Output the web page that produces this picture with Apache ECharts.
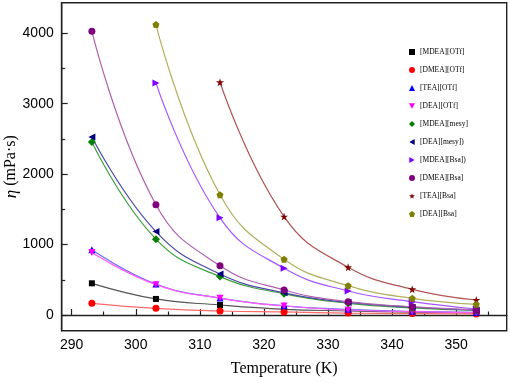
<!DOCTYPE html>
<html>
<head>
<meta charset="utf-8">
<script src="https://cdn.jsdelivr.net/npm/echarts@6/dist/echarts.min.js"></script>
<style>
  html, body { margin: 0; padding: 0; background: #fff; }
  #chart { width: 510px; height: 383px; }
</style>
</head>
<body>
<div id="chart"></div>
<script>
// temperatures (K)
var temps = [293.15, 303.15, 313.15, 323.15, 333.15, 343.15, 353.15];

// viscosity (mPa·s), null = not measured
var MDEA_OTf  = [450, 228, 142, 81, 58, 40, 28];
var DMEA_OTf  = [166, 95, 57, 43, 28, 20, 14];
var TEA_OTf   = [925, 440, 240, 130, 80, 52, 36];
var DEA_OTf   = [886, 431, 237, 128, 71, 48, 33];
var MDEA_mesy = [2456, 1077, 545, 300, 166, 100, 65];
var DEA_mesy  = [2527, 1185, 583, 315, 178, 110, 72];
var MDEA_Bsa  = [null, 3296, 1380, 663, 341, 189, 85];
var DMEA_Bsa  = [4030, 1565, 700, 355, 189, 118, 71];
var TEA_Bsa   = [null, null, 3305, 1398, 678, 365, 213];
var DEA_Bsa   = [null, 4125, 1707, 792, 417, 237, 152];

var xLabels = [290, 300, 310, 320, 330, 340, 350];
var xMinor  = [295, 305, 315, 325, 335, 345, 355];
var yLabels = [0, 1000, 2000, 3000, 4000];
var yMinor  = [500, 1500, 2500, 3500];

var STAR = 'path://M50,0 L61,35 L98,35 L68,57 L79,91 L50,70 L21,91 L32,57 L2,35 L39,35 Z';
var PENT = 'path://M50,0 L100,38 L81,100 L19,100 L0,38 Z';
var TRI_DOWN = 'path://M0,0 L100,0 L50,90 Z';
var TRI_LEFT = 'path://M0,50 L90,0 L90,100 Z';
var TRI_RIGHT = 'path://M0,0 L90,50 L0,100 Z';

var defs = [
  { name: '[MDEA][OTf]',  values: MDEA_OTf,  symbol: 'rect',     color: '#000000', line: '#555555', size: 6 },
  { name: '[DMEA][OTf]',  values: DMEA_OTf,  symbol: 'circle',   color: '#ff0000', line: '#ff6a6a', size: 7 },
  { name: '[TEA][OTf]',   values: TEA_OTf,   symbol: 'triangle', color: '#0000ff', line: '#6a6aff', size: 7 },
  { name: '[DEA][OTf]',   values: DEA_OTf,   symbol: TRI_DOWN,   color: '#ff00ff', line: '#ff5cff', size: 7 },
  { name: '[MDEA][mesy]', values: MDEA_mesy, symbol: 'diamond',  color: '#008000', line: '#3f9f3f', size: 8 },
  { name: '[DEA][mesy])', values: DEA_mesy,  symbol: TRI_LEFT,   color: '#000080', line: '#4a4aa6', size: 7 },
  { name: '[MDEA][Bsa])', values: MDEA_Bsa,  symbol: TRI_RIGHT,  color: '#8000ff', line: '#a455ff', size: 7 },
  { name: '[DMEA][Bsa]',  values: DMEA_Bsa,  symbol: 'circle',   color: '#800080', line: '#b061b0', size: 7 },
  { name: '[TEA][Bsa]',   values: TEA_Bsa,   symbol: STAR,       color: '#800000', line: '#b05555', size: 8 },
  { name: '[DEA][Bsa]',   values: DEA_Bsa,   symbol: PENT,       color: '#808000', line: '#b0b060', size: 7 }
];

var series = defs.map(function (d) {
  var pts = [];
  d.values.forEach(function (v, i) {
    if (v !== null) pts.push([temps[i], v]);
  });
  return {
    name: d.name,
    type: 'line',
    data: pts,
    smooth: 0.45,
    symbol: d.symbol,
    symbolSize: d.size,
    showAllSymbol: true,
    itemStyle: { color: d.color },
    lineStyle: { color: d.line, width: 1.2 },
    z: 3
  };
});

var chart = echarts.init(document.getElementById('chart'), null, { renderer: 'canvas' });

var tickFont = { fontFamily: 'Liberation Sans', fontSize: 14, color: '#000' };
var plain = function (v) { return String(v); };

chart.setOption({
  animation: false,
  backgroundColor: '#fff',
  grid: {
    left: 61.7, right: 3.3, top: 2.7, bottom: 52.3,
    containLabel: false,
    outerBoundsMode: 'none',
    show: true, borderColor: '#222', borderWidth: 1.4
  },
  legend: {
    orient: 'vertical',
    left: 409,
    top: 48,
    itemWidth: 6,
    itemHeight: 6,
    itemGap: 10,
    padding: 0,
    textStyle: { fontFamily: 'Liberation Serif', fontSize: 7.5, color: '#000' },
    data: defs.map(function (d) { return { name: d.name, icon: d.symbol }; })
  },
  xAxis: [{
    type: 'value',
    min: 288.44,
    max: 357.9,
    name: 'Temperature (K)',
    nameLocation: 'middle',
    nameGap: 30,
    nameMoveOverlap: false,
    nameTextStyle: { fontFamily: 'Liberation Serif', fontSize: 16, color: '#000' },
    axisLine: { show: true, lineStyle: { color: '#222', width: 1.4 } },
    axisTick: { show: true, inside: true, length: 6, customValues: xLabels, lineStyle: { color: '#222', width: 1.2 } },
    axisLabel: Object.assign({ customValues: xLabels, margin: 7, formatter: plain }, tickFont),
    splitLine: { show: false }
  }, {
    type: 'value',
    min: 288.44,
    max: 357.9,
    position: 'bottom',
    axisLine: { show: false },
    axisTick: { show: true, inside: true, length: 3.5, customValues: xMinor, lineStyle: { color: '#222', width: 1.2 } },
    axisLabel: { show: false },
    splitLine: { show: false }
  }],
  yAxis: [{
    type: 'value',
    min: -223,
    max: 4435,
    name: '{i|η} (mPa·s)',
    nameLocation: 'middle',
    nameGap: 42,
    nameMoveOverlap: false,
    nameRotate: 90,
    nameTextStyle: {
      fontFamily: 'Liberation Serif', fontSize: 16, color: '#000',
      rich: { i: { fontFamily: 'Liberation Serif', fontStyle: 'italic', fontSize: 17, color: '#000' } }
    },
    axisLine: { show: true, lineStyle: { color: '#222', width: 1.4 } },
    axisTick: { show: true, inside: true, length: 6, customValues: yLabels, lineStyle: { color: '#222', width: 1.2 } },
    axisLabel: Object.assign({ customValues: yLabels, margin: 8, formatter: plain }, tickFont),
    splitLine: { show: false }
  }, {
    type: 'value',
    min: -223,
    max: 4435,
    position: 'left',
    axisLine: { show: false },
    axisTick: { show: true, inside: true, length: 3.5, customValues: yMinor, lineStyle: { color: '#222', width: 1.2 } },
    axisLabel: { show: false },
    splitLine: { show: false }
  }],
  series: series
});
</script>
</body>
</html>
